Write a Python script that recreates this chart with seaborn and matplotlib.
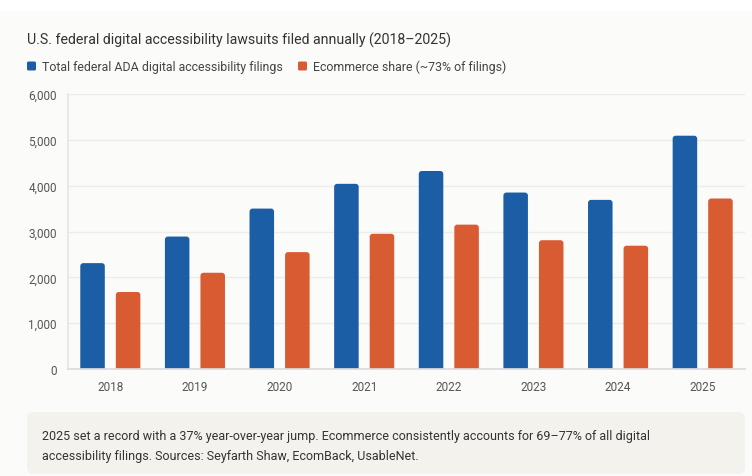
import pandas as pd
import matplotlib.pyplot as plt
import seaborn as sns
from matplotlib.patches import FancyBboxPatch, Rectangle

# ----------- DONNÉES -------------
years = ['2018', '2019', '2020', '2021', '2022', '2023', '2024', '2025']
total_filings = [2310, 2890, 3500, 4040, 4320, 3850, 3690, 5090]
ecommerce_filings = [1680, 2100, 2550, 2950, 3150, 2810, 2690, 3720]
series_names = ['Total federal ADA digital accessibility filings',
                'Ecommerce share (~73% of filings)']
y_ticks = [0, 1000, 2000, 3000, 4000, 5000, 6000]

blue = '#1b5ea6'
orange = '#d95b32'
bg = '#fbfbf9'

df = pd.DataFrame({
    'year': years * 2,
    'value': total_filings + ecommerce_filings,
    'series': [series_names[0]] * len(years) + [series_names[1]] * len(years),
})

sns.set_theme(style='white')
plt.rcParams['font.family'] = ['Roboto', 'DejaVu Sans']

W, H = 752, 477
fig = plt.figure(figsize=(W / 100, H / 100), dpi=100, facecolor=bg)

# bande blanche en haut
fig.patches.append(Rectangle((0, 1 - 12 / H), 1, 12 / H, transform=fig.transFigure,
                             facecolor='white', edgecolor='none', zorder=0))

ax = fig.add_axes([68 / W, (H - 370) / H, (745 - 68) / W, 275 / H])
ax.set_facecolor(bg)

sns.barplot(data=df, x='year', y='value', hue='series', palette=[blue, orange],
            width=0.84, gap=0.31, ax=ax, legend=False, saturation=1)

# coins arrondis en haut des barres (le bas passe sous l'axe et est coupé)
px_x = (745 - 68) / 8.0
px_y = 275 / 6000.0
r = 3.0 / px_x
dy = 4.0 / px_y
for p in list(ax.patches):
    x0, y0 = p.get_x(), p.get_y()
    w, h = p.get_width(), p.get_height()
    fc = p.get_facecolor()
    p.remove()
    ax.add_patch(FancyBboxPatch((x0, y0 - dy), w, h + dy,
                                boxstyle=f'round,pad=0,rounding_size={r}',
                                mutation_aspect=px_x / px_y,
                                facecolor=fc, edgecolor='none', zorder=3))

ax.set_xlim(-0.5, 7.5)
ax.set_ylim(0, 6000)
ax.set_yticks(y_ticks)
ax.set_yticklabels([f'{v:,}' for v in y_ticks])
ax.yaxis.grid(True, color='#ececea', linewidth=1, zorder=0)
ax.set_axisbelow(True)
ax.set_xlabel('')
ax.set_ylabel('')
ax.tick_params(axis='y', length=4, color='#e6e6e4', labelsize=8.5, labelcolor='#555555', pad=4)
ax.tick_params(axis='x', length=0, labelsize=8.5, labelcolor='#555555', pad=8)
for s in ['top', 'right']:
    ax.spines[s].set_visible(False)
ax.spines['left'].set_color('#e6e6e4')
ax.spines['bottom'].set_color('#dcdcda')
ax.spines['bottom'].set_zorder(4)

# titre et légende
fig.text(27 / W, 1 - 40 / H, 'U.S. federal digital accessibility lawsuits filed annually (2018–2025)',
         fontsize=10.2, color='#333333', va='center', ha='left')

leg_y = 1 - 67 / H
sq = 9
for x_sq, x_txt, name, col in [(27, 42, series_names[0], blue), (298, 313, series_names[1], orange)]:
    fig.patches.append(FancyBboxPatch((x_sq / W, leg_y - sq / 2 / H), sq / W, sq / H,
                                      boxstyle=f'round,pad=0,rounding_size={1.5 / W}',
                                      mutation_aspect=W / H, transform=fig.transFigure,
                                      facecolor=col, edgecolor='none'))
    fig.text(x_txt / W, leg_y, name, fontsize=8.9, color='#444444', va='center', ha='left')

# encadré de note
fig.patches.append(FancyBboxPatch((27 / W, 1 - 475 / H), (745 - 27) / W, 62 / H,
                                  boxstyle=f'round,pad=0,rounding_size={7 / W}',
                                  mutation_aspect=W / H, transform=fig.transFigure,
                                  facecolor='#f3f2ed', edgecolor='none'))
fig.text(42 / W, 1 - 437 / H,
         '2025 set a record with a 37% year-over-year jump. Ecommerce consistently accounts for 69–77% of all digital',
         fontsize=9.0, color='#333333', va='center', ha='left')
fig.text(42 / W, 1 - 457 / H,
         'accessibility filings. Sources: Seyfarth Shaw, EcomBack, UsableNet.',
         fontsize=9.0, color='#333333', va='center', ha='left')

fig.savefig('out.png', dpi=100, facecolor=bg)
